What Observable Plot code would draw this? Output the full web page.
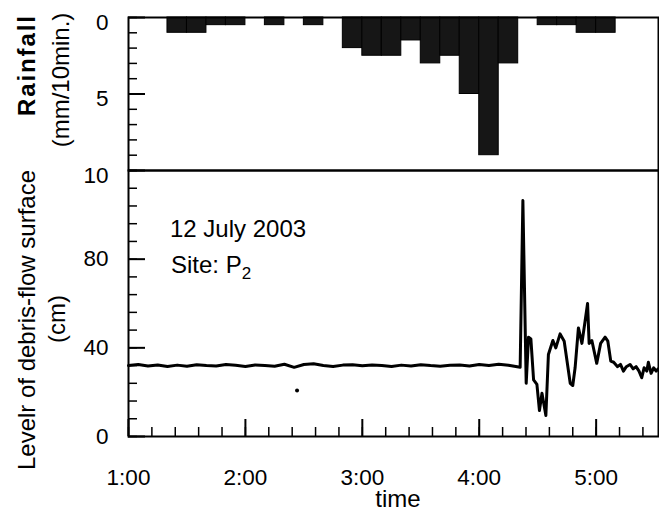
<!DOCTYPE html>
<html><head><meta charset="utf-8">
<script src="https://cdn.jsdelivr.net/npm/d3@7"></script>
<script src="https://cdn.jsdelivr.net/npm/@observablehq/plot@0.6"></script>
<style>
body{margin:0;background:#fff;}
#chart{position:relative;width:659px;height:517px;}
#chart svg{display:block;overflow:visible;}
</style></head><body><div id="chart"></div>
<script>
// ---- data ----
const rainTimes = ["1:20","1:30","1:40","1:50","2:10","2:30","2:50","3:00","3:10","3:20","3:30","3:40","3:50","4:00","4:10","4:30","4:40","4:50","5:00"];
const rainValues = [1,1,0.5,0.5,0.5,0.5,2,2.5,2.5,1.5,3,2.5,5,9,3,0.5,0.5,1,1];

const levelTimes = [
 "1:00:00","1:05:00","1:10:00","1:15:00","1:20:00","1:25:00","1:30:00","1:35:00","1:40:00","1:45:00",
 "1:50:00","1:55:00","2:00:00","2:05:00","2:10:00","2:15:00","2:20:00","2:25:00","2:30:00","2:35:00",
 "2:40:00","2:45:00","2:50:00","2:55:00","3:00:00","3:05:00","3:10:00","3:15:00","3:20:00","3:25:00",
 "3:30:00","3:35:00","3:40:00","3:45:00","3:50:00","3:55:00","4:00:00","4:05:00","4:10:00","4:15:00",
 "4:21:00","4:22:24","4:24:06","4:25:18","4:26:30","4:27:54","4:29:36","4:30:54","4:32:12","4:34:12",
 "4:35:30","4:37:48","4:39:18","4:41:30","4:43:36","4:46:42","4:48:00","4:49:12","4:50:54","4:52:42",
 "4:55:36","4:56:24","4:57:48","5:00:18","5:02:18","5:04:36","5:06:00","5:07:30","5:09:00","5:11:00",
 "5:12:30","5:14:00","5:15:30","5:17:24","5:19:00","5:20:30","5:22:00","5:23:24","5:24:36","5:26:00",
 "5:26:48","5:28:12","5:29:30","5:30:48","5:31:48"];
const levelValues = [
 32,32.5,31.8,32.3,31.6,32.2,31.7,32.4,32.0,31.8,
 32.5,32.1,31.6,32.3,32.0,31.7,32.6,31.2,32.5,32.8,
 32.0,31.6,32.2,32.4,31.9,32.3,32.0,31.6,32.2,31.8,
 32.4,32.0,31.7,32.1,32.3,31.8,32.5,32.0,32.6,32.1,
 31.2,106.5,24,44.8,44,25.5,23.5,11.7,19.5,9.5,
 37,43.3,40,46.3,43,24,23,31,49,42,
 60,42,43.3,33,42,44.8,43,34,33.5,31.5,
 32.5,29.5,31.5,32.5,30.5,31.5,29.5,26.5,31,29.5,
 33.5,28.5,31,29.5,30.5];

const strayTimes = ["2:26:30"];
const strayValues = [20.7];

const xTickLabels = ["1:00","2:00","3:00","4:00","5:00"];
const xDomainLabels = ["1:00","5:32"];
const rainTickLabels = [0,5,10];
const rainDomain = [0,10];
const levelTickLabels = [0,40,80];
const levelDomain = [0,120];

// ---- helpers ----
const parseT = s => { const p = s.split(":").map(Number); return new Date(Date.UTC(2003,6,12,p[0],p[1],p[2]||0)); };
const font = "'Liberation Sans', Arial, Helvetica, sans-serif";
const W = 659;
const xDomain = xDomainLabels.map(parseT);
const majorX = xTickLabels.map(parseT);
const minorX = d3.utcMinute.every(12).range(xDomain[0], xDomain[1]);
const rain = rainTimes.map((t,i)=>({t0: parseT(t), t1: d3.utcMinute.offset(parseT(t),10), v: rainValues[i]}));
const level = levelTimes.map((t,i)=>({t: parseT(t), v: levelValues[i]}));
const stray = strayTimes.map((t,i)=>({t: parseT(t), v: strayValues[i]}));
const style = {fontFamily: font, fontSize: "22.5px", color: "#000", background: "transparent", overflow: "visible"};

const topPlot = Plot.plot({
  width: W, height: 170, marginLeft: 128, marginRight: 1, marginTop: 17, marginBottom: 0,
  style,
  x: {type: "utc", domain: xDomain, axis: null},
  y: {domain: rainDomain, reverse: true, axis: null},
  marks: [
    Plot.rectY(rain, {x1: "t0", x2: "t1", y: "v", fill: "#161616", stroke: "#000", strokeWidth: 1}),
    Plot.axisY(d3.range(rainDomain[0], rainDomain[1] + 1, 1), {anchor: "left", tickSize: 9, dx: 9, fill: "none", stroke: "#000", strokeWidth: 1.5, label: null}),
    Plot.axisY(rainTickLabels, {anchor: "left", tickSize: 17, dx: 17, fill: "none", stroke: "#000", strokeWidth: 2, label: null}),
    Plot.axisY(rainTickLabels, {anchor: "left", tickSize: 0, tickPadding: 20, dy: 5, stroke: "none", fill: "#000", label: null}),
    Plot.frame({stroke: "#000", strokeWidth: 2})
  ]
});

const bottomPlot = Plot.plot({
  width: W, height: 347, marginLeft: 128, marginRight: 1, marginTop: 0, marginBottom: 81,
  style,
  x: {type: "utc", domain: xDomain, axis: null},
  y: {domain: levelDomain, axis: null},
  marks: [
    Plot.line(level, {x: "t", y: "v", stroke: "#000", strokeWidth: 3, strokeLinejoin: "round"}),
    Plot.dot(stray, {x: "t", y: "v", r: 2, fill: "#000", stroke: "none"}),
    Plot.axisX(minorX, {anchor: "bottom", tickSize: 9, dy: -9, fill: "none", stroke: "#000", strokeWidth: 1.5, label: null}),
    Plot.axisX(majorX, {anchor: "bottom", tickSize: 17, dy: -17, fill: "none", stroke: "#000", strokeWidth: 2, label: null}),
    Plot.axisX(majorX, {anchor: "bottom", tickSize: 0, tickPadding: 33, stroke: "none", fill: "#000", tickFormat: (d, i) => xTickLabels[i], label: null}),
    Plot.axisY(d3.range(levelDomain[0], levelDomain[1] + 1, 8), {anchor: "left", tickSize: 9, dx: 9, fill: "none", stroke: "#000", strokeWidth: 1.5, label: null}),
    Plot.axisY(levelTickLabels, {anchor: "left", tickSize: 17, dx: 17, fill: "none", stroke: "#000", strokeWidth: 2, label: null}),
    Plot.axisY(levelTickLabels, {anchor: "left", tickSize: 0, tickPadding: 20, stroke: "none", fill: "#000", label: null}),
    Plot.frame({stroke: "#000", strokeWidth: 2})
  ]
});

const chart = document.getElementById("chart");
chart.append(topPlot, bottomPlot);

// ---- titles & annotations ----
const ts = d3.select(topPlot);
ts.append("text").attr("transform", "translate(35,66) rotate(-90)").attr("text-anchor", "middle")
  .attr("font-size", 24).attr("font-weight", "bold").attr("font-family", font)
  .attr("textLength", 100).attr("lengthAdjust", "spacing").text("Rainfall");
ts.append("text").attr("transform", "translate(69,80) rotate(-90)").attr("text-anchor", "middle")
  .attr("font-size", 24).attr("font-family", font).text("(mm/10min.)");

const bs = d3.select(bottomPlot);
bs.append("text").attr("transform", "translate(35,150) rotate(-90)").attr("text-anchor", "middle")
  .attr("font-size", 24).attr("font-family", font).text("Levelr of debris-flow surface");
bs.append("text").attr("transform", "translate(65,149) rotate(-90)").attr("text-anchor", "middle")
  .attr("font-size", 24).attr("font-family", font).text("(cm)");
bs.append("text").attr("x", 170).attr("y", 67).attr("text-anchor", "start")
  .attr("font-size", 24).attr("font-family", font).text("12 July 2003");
const site = bs.append("text").attr("x", 171).attr("y", 103).attr("text-anchor", "start")
  .attr("font-size", 24).attr("font-family", font);
site.append("tspan").text("Site: P");
site.append("tspan").attr("dy", 6).attr("font-size", 17).text("2");
bs.append("text").attr("x", 398).attr("y", 337).attr("text-anchor", "middle")
  .attr("font-size", 24).attr("font-family", font).text("time");
</script>
</body></html>
